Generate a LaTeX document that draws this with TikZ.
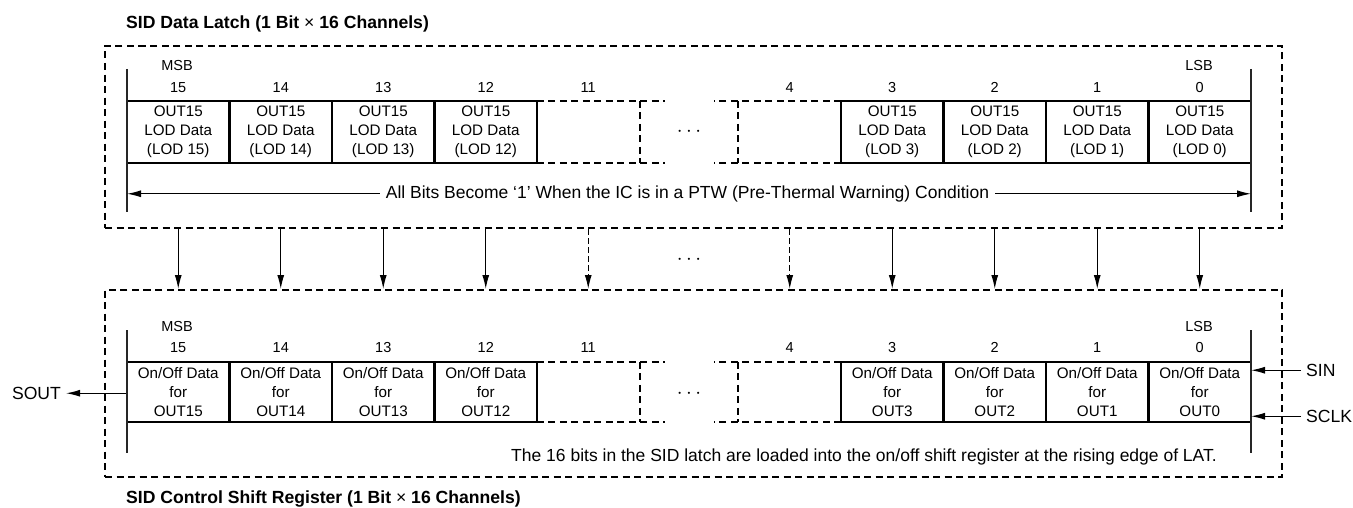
\documentclass[tikz,border=0pt]{standalone}
\usepackage{fontspec}
\setmainfont{Liberation Sans}
\usepackage{tikz}
\usetikzlibrary{arrows.meta,positioning}

\newcommand{\cellfont}{\fontsize{15.2}{18.8}\selectfont}
\newcommand{\bitfont}{\fontsize{14.5}{16}\selectfont}
\newcommand{\notefont}{\fontsize{17.5}{20}\selectfont}
\newcommand{\pinfont}{\fontsize{17.6}{20}\selectfont}
\newcommand{\headfont}{\fontsize{17.6}{20}\selectfont\bfseries}

\tikzset{
  bitcell/.style={draw, line width=2.2pt, minimum width=102.5pt, inner sep=0pt, align=center, font=\cellfont},
  ghostcell/.style={minimum width=102.5pt, inner sep=0pt},
  bankframe/.style={draw, line width=2pt, dash pattern=on 7pt off 4.5pt, minimum width=1177pt, inner sep=0pt},
  halfdash/.style={line width=2.2pt, dash pattern=on 7pt off 4.5pt},
  guide/.style={line width=1.1pt, black!85},
  sigarrow/.style={line width=1.1pt, ->},
  bitlabel/.style={anchor=base, font=\bitfont, inner sep=0pt},
  gapdots/.style={anchor=base, font=\fontsize{22}{22}\selectfont, inner sep=0pt},
}

\begin{document}
\begin{tikzpicture}[x=1pt, y=-1pt, >={Latex[length=14pt,width=7pt]}]
   \useasboundingbox (0,0) rectangle (1353,508);
   % SID data latch
   \node (latch) [bankframe, minimum height=182pt] at (693.5,137) {};
   \node (latchtitle) [anchor=base west, font=\headfont, inner sep=0pt] at (126,28.3) {SID Data Latch (1 Bit {\mdseries ×} 16 Channels)};
   \begin{scope}[every node/.style={bitcell, minimum height=62pt}]
    \node (L15) at (178.25,132) {OUT15\\LOD Data\\(LOD 15)};
    \node (L14) at (280.75,132) {OUT15\\LOD Data\\(LOD 14)};
    \node (L13) at (383.25,132) {OUT15\\LOD Data\\(LOD 13)};
    \node (L12) at (485.75,132) {OUT15\\LOD Data\\(LOD 12)};
    \node (L3) at (892.25,132) {OUT15\\LOD Data\\(LOD 3)};
    \node (L2) at (994.75,132) {OUT15\\LOD Data\\(LOD 2)};
    \node (L1) at (1097.25,132) {OUT15\\LOD Data\\(LOD 1)};
    \node (L0) at (1199.75,132) {OUT15\\LOD Data\\(LOD 0)};
   \end{scope}
   \node (L11) [ghostcell, minimum height=62pt] at (588.25,132) {};
   \node (L4) [ghostcell, minimum height=62pt] at (789.75,132) {};
   \draw[halfdash] (L11.north west) -- ++(128,0);
   \draw[halfdash] (L11.south west) -- ++(128,0);
   \draw[halfdash] (L11.north east) -- (L11.south east);
   \draw[halfdash] (L4.north east) -- ++(-127,0);
   \draw[halfdash] (L4.south east) -- ++(-127,0);
   \draw[halfdash] (L4.north west) -- (L4.south west);
   \node (Lgap) [gapdots] at (689,137) {$\cdots$};
   \node (Lmsb) [bitlabel] at (177,70.2) {MSB};
   \node (Llsb) [bitlabel] at (1199,70.2) {LSB};
   \node (Ln15) [bitlabel] at (178.25,92.2) {15};
   \node (Ln14) [bitlabel] at (280.75,92.2) {14};
   \node (Ln13) [bitlabel] at (383.25,92.2) {13};
   \node (Ln12) [bitlabel] at (485.75,92.2) {12};
   \node (Ln11) [bitlabel] at (588.25,92.2) {11};
   \node (Ln4) [bitlabel] at (789.75,92.2) {4};
   \node (Ln3) [bitlabel] at (892.25,92.2) {3};
   \node (Ln2) [bitlabel] at (994.75,92.2) {2};
   \node (Ln1) [bitlabel] at (1097.25,92.2) {1};
   \node (Ln0) [bitlabel] at (1199.75,92.2) {0};
   \coordinate (Llt) at (127,69);
   \coordinate (Llb) at (127,212);
   \coordinate (Lrt) at (1251,69);
   \coordinate (Lrb) at (1251,212);
   \draw[guide] (Llt) -- (Llb);
   \draw[guide] (Lrt) -- (Lrb);
   \node (ptw) [anchor=base, font=\notefont, inner sep=6pt] at (687.5,198.3) {All Bits Become ‘1’ When the IC is in a PTW (Pre-Thermal Warning) Condition};
   \draw[sigarrow] (ptw.west) -- (ptw.west -| Llt);
   \draw[sigarrow] (ptw.east) -- (ptw.east -| Lrt);

   % latch to shift register
   \node (Mgap) [gapdots] at (689,264) {$\cdots$};
   \node (reg) [bankframe, minimum height=187pt] at (693.5,383.5) {};
   \begin{scope}[every node/.style={bitcell, minimum height=60pt}]
    \node (R15) at (178.25,392) {On/Off Data\\for\\OUT15};
    \node (R14) at (280.75,392) {On/Off Data\\for\\OUT14};
    \node (R13) at (383.25,392) {On/Off Data\\for\\OUT13};
    \node (R12) at (485.75,392) {On/Off Data\\for\\OUT12};
    \node (R3) at (892.25,392) {On/Off Data\\for\\OUT3};
    \node (R2) at (994.75,392) {On/Off Data\\for\\OUT2};
    \node (R1) at (1097.25,392) {On/Off Data\\for\\OUT1};
    \node (R0) at (1199.75,392) {On/Off Data\\for\\OUT0};
   \end{scope}
   \node (R11) [ghostcell, minimum height=60pt] at (588.25,392) {};
   \node (R4) [ghostcell, minimum height=60pt] at (789.75,392) {};
   \begin{scope}[sigarrow]
    \draw (latch.south -| L15) -- (reg.north -| R15);
    \draw (latch.south -| L14) -- (reg.north -| R14);
    \draw (latch.south -| L13) -- (reg.north -| R13);
    \draw (latch.south -| L12) -- (reg.north -| R12);
    \draw[dash pattern=on 6pt off 3pt] (latch.south -| L11) -- (reg.north -| R11);
    \draw[dash pattern=on 6pt off 3pt] (latch.south -| L4) -- (reg.north -| R4);
    \draw (latch.south -| L3) -- (reg.north -| R3);
    \draw (latch.south -| L2) -- (reg.north -| R2);
    \draw (latch.south -| L1) -- (reg.north -| R1);
    \draw (latch.south -| L0) -- (reg.north -| R0);
   \end{scope}

   % SID control shift register
   \draw[halfdash] (R11.north west) -- ++(128,0);
   \draw[halfdash] (R11.south west) -- ++(128,0);
   \draw[halfdash] (R11.north east) -- (R11.south east);
   \draw[halfdash] (R4.north east) -- ++(-127,0);
   \draw[halfdash] (R4.south east) -- ++(-127,0);
   \draw[halfdash] (R4.north west) -- (R4.south west);
   \node (Rgap) [gapdots] at (689,398) {$\cdots$};
   \node (Rmsb) [bitlabel] at (177,331.2) {MSB};
   \node (Rlsb) [bitlabel] at (1199,331.2) {LSB};
   \node (Rn15) [bitlabel] at (178.25,352.7) {15};
   \node (Rn14) [bitlabel] at (280.75,352.7) {14};
   \node (Rn13) [bitlabel] at (383.25,352.7) {13};
   \node (Rn12) [bitlabel] at (485.75,352.7) {12};
   \node (Rn11) [bitlabel] at (588.25,352.7) {11};
   \node (Rn4) [bitlabel] at (789.75,352.7) {4};
   \node (Rn3) [bitlabel] at (892.25,352.7) {3};
   \node (Rn2) [bitlabel] at (994.75,352.7) {2};
   \node (Rn1) [bitlabel] at (1097.25,352.7) {1};
   \node (Rn0) [bitlabel] at (1199.75,352.7) {0};
   \coordinate (Rlt) at (127,330);
   \coordinate (Rlb) at (127,453);
   \coordinate (Rrt) at (1251,330);
   \coordinate (Rrb) at (1251,453);
   \draw[guide] (Rlt) -- (Rlb);
   \draw[guide] (Rrt) -- (Rrb);
   \node (sout) [anchor=base, font=\pinfont, inner sep=5pt] at (36.5,399.3) {SOUT};
   \node (sin) [anchor=base west, font=\pinfont, inner sep=5pt] at (1301,376.3) {SIN};
   \node (sclk) [anchor=base west, font=\pinfont, inner sep=5pt] at (1301,422.3) {SCLK};
   \draw[sigarrow] (R15.west |- sout.east) -- (sout.east);
   \draw[sigarrow] (sin.west) -- (sin.west -| Rrt);
   \draw[sigarrow] (sclk.west) -- (sclk.west -| Rrt);
   \node (loadnote) [anchor=base east, font=\notefont, inner sep=0pt] at (1217,461.3) {The 16 bits in the SID latch are loaded into the on/off shift register at the rising edge of LAT.};
   \node (regtitle) [anchor=base west, font=\headfont, inner sep=0pt] at (126,503.8) {SID Control Shift Register (1 Bit {\mdseries ×} 16 Channels)};
\end{tikzpicture}
\end{document}
